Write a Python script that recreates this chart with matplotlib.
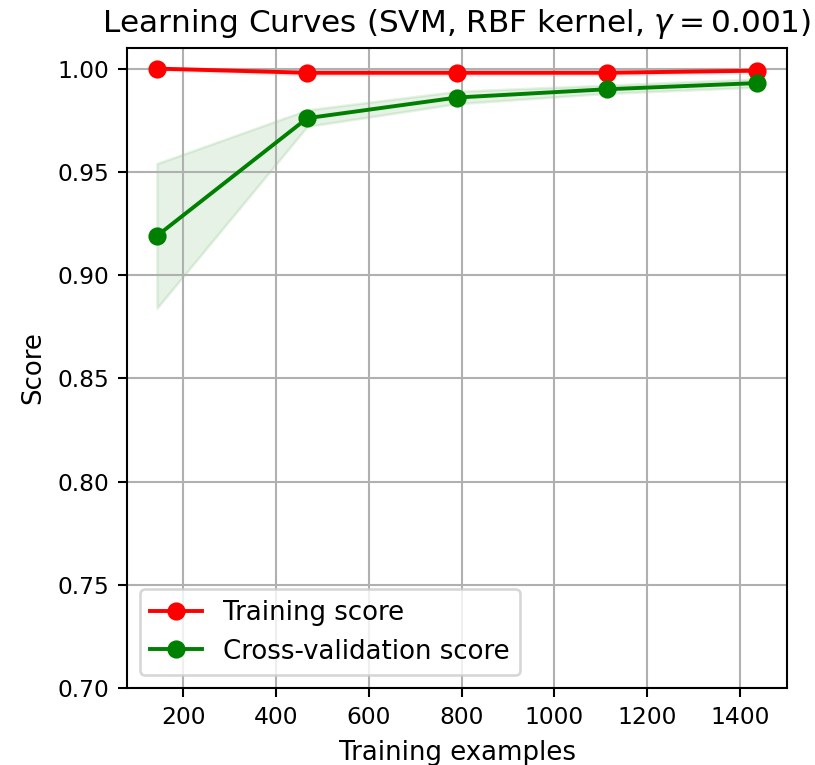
import matplotlib
matplotlib.use("Agg")
import matplotlib.pyplot as plt
import numpy as np

# learning curve data
train_sizes = np.array([143, 467, 790, 1113, 1437])
train_mean = np.array([1.000, 0.998, 0.998, 0.998, 0.999])
train_std = np.array([0.0005, 0.001, 0.001, 0.001, 0.0008])
test_mean = np.array([0.919, 0.976, 0.986, 0.990, 0.993])
test_std = np.array([0.035, 0.004, 0.003, 0.002, 0.002])

plt.rcParams['xtick.labelsize'] = 9
plt.rcParams['ytick.labelsize'] = 9

s = 1.87
fig = plt.figure(figsize=(8.15 / s, 7.65 / s), dpi=100 * s)
ax = fig.add_axes([0.1558, 0.1007, 0.810, 0.8366])

ax.set_title(r"Learning Curves (SVM, RBF kernel, $\gamma=0.001$)")
ax.set_ylim(0.7, 1.01)
ax.set_xlabel("Training examples")
ax.set_ylabel("Score")
ax.grid()

ax.fill_between(train_sizes, train_mean - train_std, train_mean + train_std,
                alpha=0.1, color="r")
ax.fill_between(train_sizes, test_mean - test_std, test_mean + test_std,
                alpha=0.1, color="g")
ax.plot(train_sizes, train_mean, 'o-', color="r", label="Training score")
ax.plot(train_sizes, test_mean, 'o-', color="g", label="Cross-validation score")
ax.legend(loc="best")

fig.savefig("out.png")
